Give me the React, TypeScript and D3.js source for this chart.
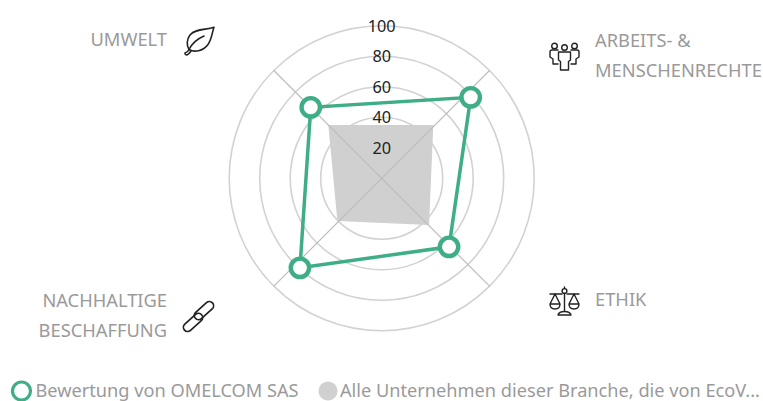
import React from "react";
import * as d3 from "d3";

const categories = ["ARBEITS- &|MENSCHENRECHTE", "ETHIK", "NACHHALTIGE|BESCHAFFUNG", "UMWELT"];
const spokeAngles = [45, 135, 225, 315];
const ticks = [20, 40, 60, 80, 100];
const companyValues = [78.9, 63, 79.5, 65.8];
const companyAngles = [47.7, 135.5, 222.4, 315];
const industryValues = [48.7, 43.6, 40.4, 49.5];
const industryAngles = [44, 134.6, 226, 315];
const legendCompany = "Bewertung von OMELCOM SAS";
const legendIndustry = "Alle Unternehmen dieser Branche, die von EcoV...";

const cx = 381.7;
const cy = 178.3;
const r = d3.scaleLinear().domain([0, 100]).range([0, 152.5]);
const pt = (v: number, a: number): [number, number] => {
  const t = (a * Math.PI) / 180;
  return [cx + r(v) * Math.sin(t), cy - r(v) * Math.cos(t)];
};
const closed = d3.line().curve(d3.curveLinearClosed);
const FONT = "'Noto Sans', 'Open Sans', sans-serif";
const TXT = "#9a9a9a";
const GREEN = "#3fae87";
const GRID = "#d2d2d2";

const iconProps = { fill: "none", stroke: "#222", strokeWidth: 1.6, strokeLinecap: "round" as const, strokeLinejoin: "round" as const };

const Leaf = () => (
  <g transform="translate(184,26.5)" {...iconProps}>
    <path d="M30 0.8 C22 3.5 11 2 6 8.5 C2.5 13 2.5 19 5 23 C10 26 19 25 24 18 C28 12 28 6 30 0.8 Z" />
    <path d="M5 23 C8 17 13 12.5 20 9.5" />
    <path d="M5 23 C4 25 2.5 26 1 26.5 C1 27.5 2 28.5 3 28.5 C4.5 28 6 26 7 24.5" />
  </g>
);
const People = () => (
  <g transform="translate(549,42)" {...iconProps} strokeWidth={1.4}>
    <circle cx="5.5" cy="4" r="2.8" />
    <circle cx="15.5" cy="5.5" r="2.8" />
    <circle cx="25.5" cy="4" r="2.8" />
    <path d="M9 8 H3 Q1 8 1 10 V15 L4 17 V22 H9" />
    <path d="M22 8 H28 Q30 8 30 10 V15 L27 17 V22 H22" />
    <path d="M9.5 10 H21.5 V18 L19.5 19.5 V28 H11.5 V19.5 L9.5 18 Z" />
  </g>
);
const Scale = () => (
  <g transform="translate(549,286)" {...iconProps} strokeWidth={1.4}>
    <circle cx="15.5" cy="5" r="2.4" />
    <path d="M15.5 1 V2.6 M15.5 7.4 V25" />
    <path d="M1 8 H13 M18 8 H30" />
    <path d="M6 8 L1 18 H11 Z M1 18 Q1 23 6 23 Q11 23 11 18" />
    <path d="M25 8 L20 18 H30 Z M20 18 Q20 23 25 23 Q30 23 30 18" />
    <path d="M9 29 Q10 25.5 15.5 25.5 Q21 25.5 22 29 Z" />
  </g>
);
const Link = () => (
  <g transform="translate(198.5,316.5) rotate(-42)" {...iconProps} strokeWidth={1.7}>
    <rect x="-19.5" y="-3.5" width="23" height="8.5" rx="4.25" />
    <rect x="-3.5" y="-5" width="23" height="8.5" rx="4.25" />
  </g>
);

const Label = ({ text, x, y, anchor }: { text: string; x: number; y: number; anchor: string }) => (
  <text x={x} y={y} textAnchor={anchor} fontFamily={FONT} fontSize={18.3} fill={TXT}>
    {text.split("|").map((l, i) => (
      <tspan key={l} x={x} y={y + i * 30}>{l}</tspan>
    ))}
  </text>
);

export default function App() {
  const companyPts = companyValues.map((v, i) => pt(v, companyAngles[i]));
  const industryPts = industryValues.map((v, i) => pt(v, industryAngles[i]));
  return (
    <svg width={763} height={401} style={{ position: "absolute", left: 0, top: 0 }}>
      {ticks.map((t) => (
        <circle key={t} cx={cx} cy={cy} r={r(t)} fill="none" stroke={GRID} strokeWidth={1.6} />
      ))}
      <path d={closed(industryPts) ?? ""} fill="#d0d0d0" />
      {spokeAngles.map((a) => {
        const [x, y] = pt(100, a);
        return <line key={a} x1={cx} y1={cy} x2={x} y2={y} stroke="#bdbdbd" strokeWidth={1.2} />;
      })}
      {ticks.map((t) => (
        <text key={t} x={cx} y={cy - r(t) + 6} textAnchor="middle" fontFamily={FONT} fontSize={16.3} fill="#222">{t}</text>
      ))}
      <path d={closed(companyPts) ?? ""} fill="none" stroke={GREEN} strokeWidth={3.5} />
      {companyPts.map(([x, y], i) => (
        <circle key={i} cx={x} cy={y} r={9.2} fill="#fff" stroke={GREEN} strokeWidth={4.4} />
      ))}
      <Label text={categories[0]} x={595} y={47} anchor="start" />
      <Label text={categories[1]} x={595} y={306} anchor="start" />
      <Label text={categories[2]} x={167} y={307} anchor="end" />
      <Label text={categories[3]} x={167} y={46} anchor="end" />
      <Leaf />
      <People />
      <Scale />
      <Link />
      <circle cx={21.5} cy={391} r={9} fill="#fff" stroke={GREEN} strokeWidth={3.2} />
      <text x={35.5} y={397} fontFamily={FONT} fontSize={18.2} fill={TXT}>{legendCompany}</text>
      <circle cx={328} cy={391} r={9.5} fill="#d0d0d0" />
      <text x={340} y={397} fontFamily={FONT} fontSize={18.2} fill={TXT}>{legendIndustry}</text>
    </svg>
  );
}
